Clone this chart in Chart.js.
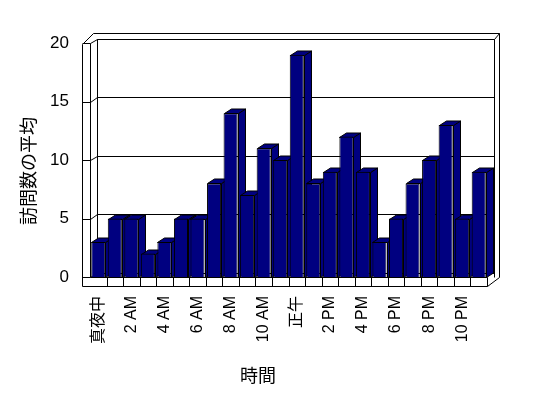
<!DOCTYPE html>
<html>
<head>
<meta charset="utf-8">
<script src="https://cdn.jsdelivr.net/npm/chart.js@4/dist/chart.umd.min.js"></script>
<style>
  html, body { margin: 0; padding: 0; background: #fff; }
</style>
</head>
<body>
<canvas id="visitChart" width="548" height="398"></canvas>
<script>
// --- DATA ---
const hours = ['真夜中', '1 AM', '2 AM', '3 AM', '4 AM', '5 AM', '6 AM', '7 AM', '8 AM', '9 AM', '10 AM', '11 AM',
               '正午', '1 PM', '2 PM', '3 PM', '4 PM', '5 PM', '6 PM', '7 PM', '8 PM', '9 PM', '10 PM', '11 PM'];
const avgVisits = [3, 5, 5, 2, 3, 5, 5, 8, 14, 7, 11, 10, 19, 8, 9, 12, 9, 3, 5, 8, 10, 13, 5, 9];
const yTickValues = [0, 5, 10, 15, 20];
const xTitle = '時間';
const yTitle = '訪問数の平均';

const NAVY = '#000080';
const DX = 7, DY = -4.5; // depth of the fake 3D look
const FONT = '"Liberation Sans", "Noto Sans CJK JP", sans-serif';

const px = v => Math.round(v) + 0.5;

function poly(ctx, pts, fill) {
    ctx.beginPath();
    ctx.moveTo(pts[0][0], pts[0][1]);
    for (let i = 1; i < pts.length; i++) ctx.lineTo(pts[i][0], pts[i][1]);
    if (fill) { ctx.closePath(); ctx.fillStyle = fill; ctx.fill(); }
    ctx.stroke();
}

// walls, floor, gridlines and the top/side faces of the bars
const frame3d = {
    id: 'frame3d',
    beforeDatasetsDraw(chart) {
        const { ctx, chartArea: a, scales: { x, y } } = chart;
        const L = px(a.left), R = px(a.right), T = px(a.top), B = px(a.bottom);
        const bL = px(a.left + DX), bR = px(a.right + DX), bT = px(a.top + DY);
        ctx.save();
        ctx.strokeStyle = '#000';
        ctx.lineWidth = 1;

        // outer box
        poly(ctx, [[L - 8, T + 1], [L - 8, B + 9], [R, B + 9], [R + 12, B], [R + 12, T - 10], [L + 3, T - 10], [L - 8, T + 1]]);
        poly(ctx, [[bR, bT], [R + 12, T - 10]]);

        // back wall
        poly(ctx, [[bL, B], [bL, bT], [bR, bT], [bR, B]]);
        // left wall front edge
        poly(ctx, [[L, T], [L, B]]);

        // gridlines: tick, diagonal across the side wall, then back wall
        yTickValues.forEach(v => {
            const yy = y.getPixelForValue(v);
            const fy = px(yy), by = px(yy + DY);
            poly(ctx, [[L - 8, fy], [L, fy], [bL, by], [bR, by]]);
        });

        // floor with category separators
        poly(ctx, [[L, B], [R, B], [R, B + 9]]);
        for (let i = 1; i < hours.length; i++) {
            const xx = px((x.getPixelForValue(i - 1) + x.getPixelForValue(i)) / 2);
            poly(ctx, [[xx, B], [xx, B + 9]]);
        }

        // top and side faces of each bar, left to right
        chart.getDatasetMeta(0).data.forEach(bar => {
            const { x: cx, y: top, base, width } = bar.getProps(['x', 'y', 'base', 'width'], true);
            const l = px(cx - width / 2), r = px(cx + width / 2), t = px(top), b = px(base);
            poly(ctx, [[r, t], [r + DX, t + DY], [r + DX, b + DY], [r, b]], NAVY);
            poly(ctx, [[l, t], [l + DX, t + DY], [r + DX, t + DY], [r, t]], NAVY);
        });
        ctx.restore();
    },
    afterDraw(chart) {
        const { ctx } = chart;
        ctx.save();
        ctx.fillStyle = '#000';
        ctx.font = '18px ' + FONT;
        ctx.textAlign = 'center';
        ctx.textBaseline = 'middle';
        ctx.fillText(xTitle, 258, 377);
        ctx.translate(30, 171);
        ctx.rotate(-Math.PI / 2);
        ctx.fillText(yTitle, 0, 0);
        ctx.restore();
    }
};

new Chart(document.getElementById('visitChart').getContext('2d'), {
    type: 'bar',
    data: {
        labels: hours,
        datasets: [{
            data: avgVisits,
            backgroundColor: NAVY,
            borderColor: '#000',
            borderWidth: 1,
            barPercentage: 0.85,
            categoryPercentage: 1
        }]
    },
    options: {
        responsive: false,
        animation: false,
        layout: { padding: { top: 43, right: 61, left: 0, bottom: 0 } },
        plugins: { legend: { display: false }, tooltip: { enabled: false } },
        scales: {
            x: {
                grid: { display: false, drawTicks: false },
                border: { display: false },
                afterFit: s => { s.height = 121; },
                ticks: {
                    autoSkip: false, minRotation: 90, maxRotation: 90, padding: 19,
                    color: '#000', font: { family: FONT, size: 16 },
                    callback: (v, i) => (i % 2 ? '' : hours[i])
                }
            },
            y: {
                min: 0, max: 20,
                grid: { display: false, drawTicks: false },
                border: { display: false },
                afterFit: s => { s.width = 90; },
                ticks: { stepSize: 5, padding: 21, color: '#000', font: { family: FONT, size: 17 } }
            }
        }
    },
    plugins: [frame3d]
});
</script>
</body>
</html>
